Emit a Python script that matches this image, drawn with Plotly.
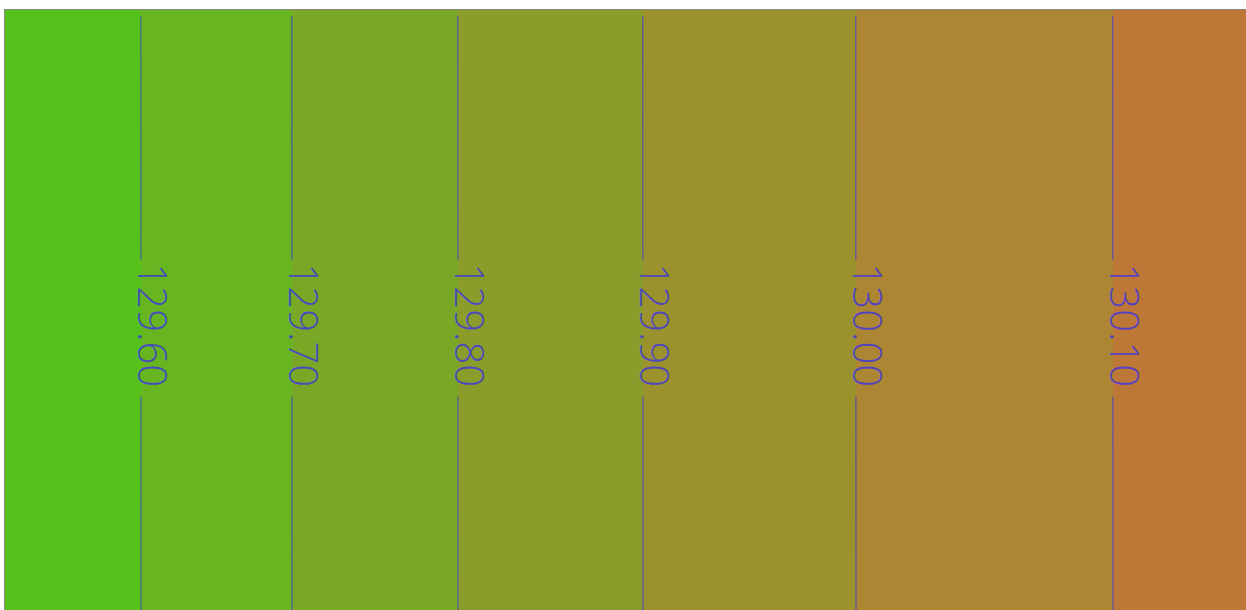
import numpy as np
import plotly.graph_objects as go

# Horizontal position (arbitrary distance units) and the value read along it
x_pos = [0, 136, 287, 453, 638, 851, 1108, 1241]
z_bottom = [129.5000, 129.6000, 129.7000, 129.8000, 129.9000, 130.0000, 130.1000, 130.1460]
z_top = [129.5001, 129.6001, 129.7001, 129.8001, 129.9001, 130.0001, 130.1001, 130.1461]
y_pos = [0, 10]

band_colors = ["#56C11A", "#67B520", "#78A826", "#8A9D2A", "#9B922E", "#AC8632", "#BD7838"]
levels_start, levels_end, levels_step = 129.6, 130.1, 0.1
zmin, zmax = 129.5, 130.2
line_color = "rgba(60,50,225,0.8)"
label_font = dict(size=40, family="Open Sans", weight=300)

z = [z_bottom, z_top]

# stepped colorscale
n = len(band_colors)
cs = []
for i, c in enumerate(band_colors):
    cs.append([i / n, c])
    cs.append([(i + 1) / n, c])

fig = go.Figure()
fig.add_trace(go.Heatmap(
    x=x_pos, y=y_pos, z=z, zmin=zmin, zmax=zmax, colorscale=cs,
    zsmooth="best", showscale=False, hoverinfo="skip"))
fig.add_trace(go.Contour(
    x=x_pos, y=y_pos, z=z,
    contours=dict(start=levels_start, end=levels_end, size=levels_step,
                  coloring="none", showlabels=True, labelformat=".2f",
                  labelfont=dict(color="rgba(0,0,0,0)", **label_font)),
    line=dict(color=line_color, width=1),
    showscale=False))

# level labels, placed where each level crosses the profile
levels = np.round(np.arange(levels_start, levels_end + levels_step / 2, levels_step), 2)
for lv in levels:
    xc = float(np.interp(lv, z_bottom, x_pos))
    fig.add_annotation(x=xc, y=0.5, xref="x", yref="paper", text=f"{lv:.2f}",
                       textangle=90, showarrow=False, xshift=12.5,
                       font=dict(color=line_color, **label_font))

fig.update_layout(
    width=1246, height=640,
    margin=dict(l=5, r=0, t=10, b=0),
    paper_bgcolor="white", plot_bgcolor="white",
    showlegend=False,
    xaxis=dict(range=[0, 1241], showgrid=False, zeroline=False, showticklabels=False,
               ticks="", side="top", showline=True, linecolor="#888888", linewidth=1),
    yaxis=dict(range=[0, 10.096], showgrid=False, zeroline=False, showticklabels=False,
               ticks="", showline=True, linecolor="#888888", linewidth=1),
)
fig.write_html("out.html")
